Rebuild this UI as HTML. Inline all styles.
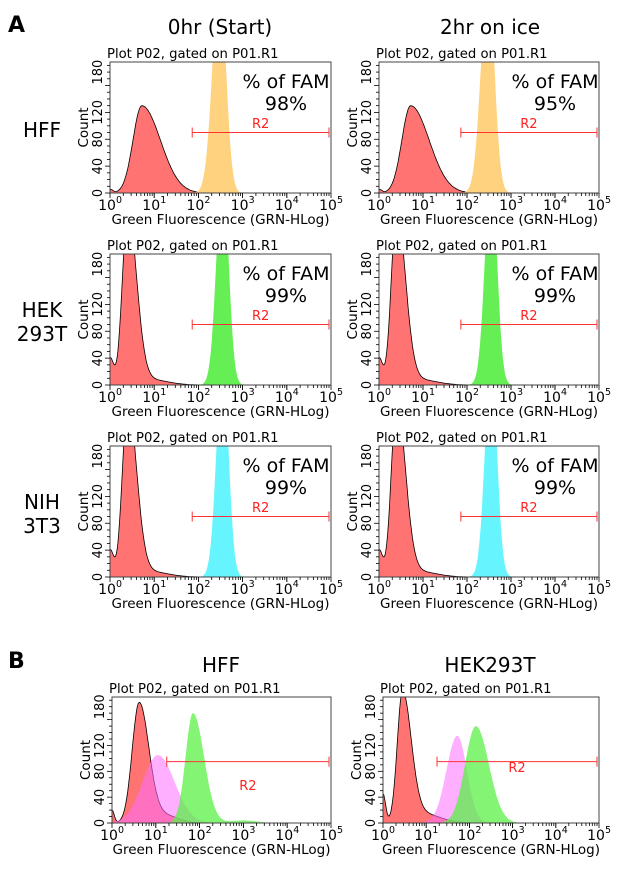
<!DOCTYPE html>
<html><head><meta charset="utf-8"><style>
body{margin:0;background:#fff}
svg text{font-family:"DejaVu Sans","Liberation Sans",sans-serif}
</style></head><body>
<svg id="s" width="620" height="880" xmlns="http://www.w3.org/2000/svg"></svg>
<script>
const S=document.getElementById('s');let o='';
function T(x,y,t,sz,a,extra){o+=`<text x="${x}" y="${y}" font-size="${sz}" text-anchor="${a||'start'}" ${extra||''}>${t}</text>`;}
function f(d,c){let v=0;for(const p of c.p){const [m,H,sl,sr]=p;const s=d<m?sl:sr;v+=H*Math.exp(-(d-m)*(d-m)/(2*s*s));}return v;}
let cid=0;
function plot(x0,y0,x1,y1,series,gate,pct){
 const w=x1-x0,h=y1-y0,X=d=>x0+d*w/5,Y=c=>y1-c*h/195;
 cid++;o+=`<clipPath id="c${cid}"><rect x="${x0}" y="${y0}" width="${w}" height="${h}"/></clipPath>`;
 T(x0-3,y0-4,'Plot P02, gated on P01.R1',13.2);
 o+=`<g clip-path="url(#c${cid})">`;
 for(const c of series){let pts=[];for(let d=0;d<=5.001;d+=0.02){let v=f(d,c);pts.push(X(d).toFixed(1)+','+Y(v).toFixed(1));}
  o+=`<path d="M${X(0)},${y1} L${pts.join(' L')} L${X(5)},${y1}Z" fill="${c.col}" ${c.line?'stroke="#000" stroke-width="0.8"':''}/>`;}
 o+='</g>';
 o+=`<rect x="${x0}" y="${y0}" width="${w}" height="${h}" fill="none" stroke="#444" stroke-width="1"/>`;
 for(let c=0;c<=190;c+=10){const yy=Y(c);o+=`<line x1="${x0-(c%40==0?5:3)}" x2="${x0}" y1="${yy}" y2="${yy}" stroke="#000" stroke-width="0.8"/>`;}
 for(const c of [0,40,80,120,180]){const yy=Y(c);T(x0-8,yy,c,13,'middle',`transform="rotate(-90 ${x0-8} ${yy})"`);}
 T(x0-22,(y0+y1)/2,'Count',13.5,'middle',`transform="rotate(-90 ${x0-22} ${(y0+y1)/2})"`);
 for(let d=0;d<5;d++)for(let k=1;k<=10;k++){const xx=X(d+Math.log10(k));o+=`<line x1="${xx}" x2="${xx}" y1="${y1}" y2="${y1+(k==1||k==10?5:3)}" stroke="#000" stroke-width="0.8"/>`;}
 for(let d=0;d<=5;d++){T(X(d)-3,y1+17,'10',14,'middle');T(X(d)+6,y1+10,d,9.5,'start');}
 T((x0+x1)/2,y1+31,'Green Fluorescence (GRN-HLog)',13.5,'middle');
 const gy=Y(gate.c),ga=X(gate.a),gb=X(5)-2;
 o+=`<g stroke="#f33" stroke-width="1"><line x1="${ga}" x2="${gb}" y1="${gy}" y2="${gy}"/><line x1="${ga}" x2="${ga}" y1="${gy-5}" y2="${gy+5}"/><line x1="${gb}" x2="${gb}" y1="${gy-5}" y2="${gy+5}"/></g>`;
 T((ga+gb)/2,gate.ly,'R2',13,'middle','fill="#f22"');
 if(pct){T(x0+176,y0+26,'% of FAM',19,'middle');T(x0+176,y0+48,pct,19,'middle');}
}
const RED='rgba(255,90,90,0.85)';
const hffRed={col:RED,line:1,p:[[0.72,130,0.2,0.42],[0.02,5,0.05,0.05]]};
const hekRed={col:RED,line:1,p:[[0.4,260,0.12,0.2],[0.0,40,0.08,0.08],[0.9,8,0.3,0.4]]};
const orange={col:'#ffd27f',p:[[2.48,320,0.16,0.14]]};
const green={col:'#66ee55',p:[[2.55,320,0.14,0.13]]};
const cyan={col:'#66f5ff',p:[[2.55,320,0.14,0.13]]};
const lefts=[110,379],rights=[331,599];
const rows=[[62,193],[254,385],[446,577]];
const labs=[['HFF'],['HEK','293T'],['NIH','3T3']];
const cols=[orange,green,cyan];
const pcts=[['98%','95%'],['99%','99%'],['99%','99%']];
T(8,32,'A',22,'start','font-weight="bold"');
T(220,34,'0hr (Start)',20,'middle');T(490,34,'2hr on ice',20,'middle');
for(let r=0;r<3;r++){
 const L=labs[r];if(L.length==1)T(42,rows[r][0]+75,L[0],20,'middle');else{T(42,rows[r][0]+63,L[0],20,'middle');T(42,rows[r][0]+87,L[1],20,'middle');}
 for(let c=0;c<2;c++){
  const red=r==0?hffRed:hekRed;
  plot(lefts[c],rows[r][0],rights[c],rows[r][1],[red,cols[r]],{a:1.86,c:90,ly:rows[r][0]+66},pcts[r][c]);
 }
}
T(8,668,'B',22,'start','font-weight="bold"');
T(221,672,'HFF',20,'middle');T(490,672,'HEK293T',20,'middle');
plot(112,697,331,823,[
 {col:'rgba(255,90,90,0.85)',line:1,p:[[0.62,185,0.16,0.22],[0.0,20,0.05,0.05],[1.2,12,0.3,0.3]]},
 {col:'rgba(255,110,255,0.55)',p:[[1.05,105,0.35,0.38]]},
 {col:'rgba(90,240,70,0.75)',p:[[1.85,170,0.17,0.25],[3,4,0.3,0.3]]}],{a:1.25,c:95,ly:790});
plot(383,697,599,823,[
 {col:'rgba(255,90,90,0.85)',line:1,p:[[0.45,200,0.12,0.2],[0.0,45,0.06,0.06],[0.9,15,0.3,0.4]]},
 {col:'rgba(255,110,255,0.55)',p:[[1.72,135,0.25,0.22]]},
 {col:'rgba(90,240,70,0.75)',p:[[2.15,150,0.25,0.3]]}],{a:1.25,c:95,ly:772});
S.innerHTML=o;
</script>
</body></html>
